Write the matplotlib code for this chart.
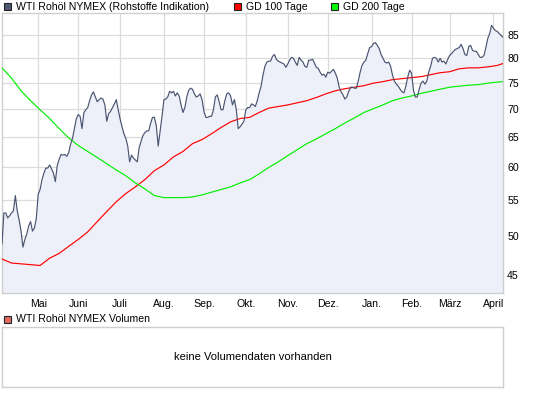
#!/usr/bin/env python3

import numpy as np
import pandas as pd
import matplotlib
matplotlib.use("Agg")
import matplotlib.pyplot as plt
from matplotlib.patches import Rectangle
from matplotlib.ticker import NullLocator

plt.rcParams['font.family'] = ['Liberation Sans', 'DejaVu Sans']

# Daily trading days, April 2009 - April 2010
DATES = pd.bdate_range('2009-04-06', '2010-04-08')

# WTI close (USD), one value per trading day
CLOSE = [
    48.9, 53.1, 53.1, 52.4, 52.7, 53.1, 53.4, 55.6, 53.4, 52.1,
    50.6, 48.5, 49.5, 50.2, 51.3, 51.9, 50.6, 51.0, 52.3, 55.8,
    56.5, 58.0, 59.0, 59.8, 59.8, 60.3, 59.7, 59.0, 57.7, 60.2,
    61.2, 62.0, 61.9, 62.0, 61.7, 62.3, 63.7, 64.7, 66.4, 68.1,
    68.9, 68.6, 66.4, 69.3, 69.8, 70.2, 71.5, 72.6, 73.2, 72.2,
    71.3, 71.7, 72.0, 71.8, 70.7, 67.7, 69.1, 69.5, 70.2, 70.9,
    71.7, 69.8, 68.1, 66.7, 65.5, 64.7, 63.4, 60.8, 61.9, 61.4,
    61.1, 60.8, 63.1, 64.2, 65.2, 65.7, 66.0, 66.0, 67.3, 68.4,
    68.4, 66.9, 63.4, 65.9, 68.6, 71.7, 71.8, 72.2, 73.3, 73.0,
    73.3, 72.4, 73.0, 72.4, 70.7, 69.3, 70.2, 72.2, 73.5, 73.9,
    73.7, 72.8, 72.2, 72.4, 72.8, 71.7, 69.5, 68.4, 68.4, 68.6,
    68.6, 69.8, 72.2, 72.6, 71.3, 69.8, 69.8, 71.5, 72.8, 73.0,
    72.4, 70.7, 71.7, 69.8, 66.4, 66.7, 67.2, 67.7, 69.8, 70.2,
    70.2, 70.9, 70.7, 70.4, 71.5, 73.0, 74.3, 76.5, 78.3, 79.2,
    79.4, 79.4, 80.4, 80.8, 79.8, 79.4, 79.2, 79.0, 78.8, 78.1,
    78.8, 79.6, 80.2, 80.0, 79.2, 78.5, 80.2, 79.6, 79.2, 78.3,
    78.1, 79.6, 79.6, 79.8, 79.0, 78.1, 77.9, 77.1, 76.5, 76.7,
    76.1, 77.1, 76.9, 77.3, 77.7, 76.9, 75.9, 74.1, 73.2, 72.6,
    71.8, 72.2, 73.3, 74.1, 74.1, 73.9, 73.9, 75.3, 77.1, 78.5,
    79.2, 79.6, 81.0, 82.3, 82.5, 83.2, 83.4, 82.8, 82.1, 80.8,
    80.0, 79.2, 79.0, 79.2, 78.3, 76.5, 75.3, 74.7, 74.3, 73.7,
    73.2, 73.0, 74.3, 76.1, 77.5, 76.9, 73.5, 72.2, 72.2, 73.7,
    74.9, 75.3, 74.7, 75.3, 77.1, 78.3, 80.0, 80.2, 80.0, 79.2,
    80.0, 79.2, 79.4, 78.8, 79.8, 80.6, 81.0, 81.5, 81.9, 82.1,
    82.3, 83.0, 82.1, 80.8, 80.6, 82.5, 82.8, 81.7, 81.5, 81.5,
    80.8, 80.2, 80.2, 80.6, 82.3, 84.3, 85.4, 87.3, 86.6, 86.1,
    85.9, 85.4, 85.0, 84.6,
]

# moving averages, read every 5th trading day (plus the last day)
MA_IDX = list(range(0, 264, 5)) + [263]
GD100 = [
    47.0, 46.5, 46.4, 46.3, 46.2, 47.1, 47.7, 48.6, 49.5, 50.5,
    51.9, 53.3, 54.7, 55.9, 56.9, 58.0, 59.4, 60.3, 61.6, 62.5,
    63.8, 64.5, 65.5, 66.6, 67.6, 68.2, 68.4, 69.3, 70.1, 70.4,
    70.7, 71.1, 71.5, 72.1, 72.8, 73.4, 73.8, 74.1, 74.4, 74.9,
    75.2, 75.6, 75.8, 76.0, 76.2, 76.6, 77.0, 77.2, 77.8, 78.0,
    78.0, 78.2, 78.5, 78.9,
]
GD200 = [
    78.0, 75.9, 73.4, 71.5, 69.8, 68.2, 66.4, 64.8, 63.5, 62.5,
    61.5, 60.5, 59.5, 58.6, 57.5, 56.6, 55.6, 55.3, 55.3, 55.3,
    55.4, 55.7, 56.1, 56.5, 56.9, 57.5, 58.0, 58.9, 59.9, 60.8,
    61.8, 62.8, 63.8, 64.6, 65.5, 66.4, 67.4, 68.3, 69.3, 70.0,
    70.7, 71.5, 72.0, 72.4, 72.9, 73.3, 73.7, 74.1, 74.3, 74.5,
    74.6, 74.9, 75.1, 75.2,
]

Y_TICKS = [45, 50, 55, 60, 65, 70, 75, 80, 85]
MONTHS_DE = {1: 'Jan.', 2: 'Feb.', 3: 'März', 4: 'April', 5: 'Mai', 6: 'Juni',
             7: 'Juli', 8: 'Aug.', 9: 'Sep.', 10: 'Okt.', 11: 'Nov.', 12: 'Dez.'}

PRICE_COLOR = '#4a5470'
FILL_COLOR = '#eef0f9'
GRID_COLOR = '#dcdcdc'
BORDER_COLOR = '#cfcfcf'
FS = 7.6

W, H = 545, 395


def fig_xy(x, y):
    # pixel position (from top-left) -> figure fraction
    return x / W, 1 - y / H


fig = plt.figure(figsize=(W / 100, H / 100), dpi=100)

x = np.arange(len(DATES))
ax = fig.add_axes([2 / W, 1 - 293 / H, 501 / W, 280 / H])
ax.set_yscale('log')
ax.set_xlim(0, len(DATES) - 1)
ax.set_ylim(42.95, 90.2)

ax.fill_between(x, CLOSE, ax.get_ylim()[0], color=FILL_COLOR, lw=0, zorder=1)
ax.plot(x, CLOSE, color=PRICE_COLOR, lw=0.85, zorder=4)
ax.plot(MA_IDX, GD100, color='#ff0000', lw=0.85, zorder=3)
ax.plot(MA_IDX, GD200, color='#00ee00', lw=0.85, zorder=3)

# month ticks at first trading day of each month
month = DATES.month
first = [i for i in range(1, len(DATES)) if month[i] != month[i - 1]]
ax.set_xticks(first)
ax.set_xticklabels([MONTHS_DE[month[i]] for i in first], fontsize=FS)

ax.yaxis.tick_right()
ax.set_yticks(Y_TICKS)
ax.set_yticklabels([str(v) for v in Y_TICKS], fontsize=FS)
ax.yaxis.set_minor_locator(NullLocator())
ax.tick_params(axis='both', length=0, colors='black')
ax.tick_params(axis='x', pad=4)
ax.tick_params(axis='y', pad=3)

ax.grid(True, color=GRID_COLOR, lw=0.9, zorder=2)
ax.set_axisbelow(True)
for s in ax.spines.values():
    s.set_color(BORDER_COLOR)
    s.set_linewidth(1.0)

# volume panel (empty)
ax2 = fig.add_axes([2 / W, 1 - 387 / H, 501 / W, 60 / H])
ax2.set_xticks([])
ax2.set_yticks([])
for s in ax2.spines.values():
    s.set_color(BORDER_COLOR)
    s.set_linewidth(1.0)
ax2.text(0.5, 0.5, 'keine Volumendaten vorhanden', transform=ax2.transAxes,
         ha='center', va='center', fontsize=FS + 0.4)


def legend_item(px, py, color, label):
    x0, y0 = fig_xy(px, py + 3.5)
    fig.patches.append(Rectangle((x0, y0), 7 / W, 7 / H, transform=fig.transFigure,
                                 facecolor=color, edgecolor='#222222', lw=0.8))
    tx, ty = fig_xy(px + 12, py)
    fig.text(tx, ty, label, fontsize=FS, ha='left', va='center')


legend_item(3.5, 6.5, '#4f5872', 'WTI Rohöl NYMEX (Rohstoffe Indikation)')
legend_item(233.5, 6.5, '#ff0000', 'GD 100 Tage')
legend_item(331, 6.5, '#00ff00', 'GD 200 Tage')
legend_item(3.5, 319.5, '#dc6b66', 'WTI Rohöl NYMEX Volumen')

fig.savefig('out.png', dpi=100)
